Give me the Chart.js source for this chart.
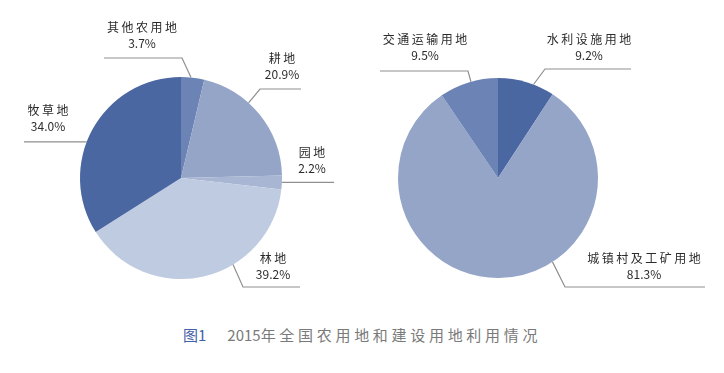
<html><head>
<meta charset="UTF-8">
<title>2015年全国农用地和建设用地利用情况</title>
<script src="https://cdn.jsdelivr.net/npm/chart.js"></script>
<style>
  body { margin: 0; background: #fff; }
  .wrap { position: relative; width: 724px; height: 373px; overflow: hidden; }
  .pie { position: absolute; top: 0; }
  .cap { position: absolute; left: 183px; top: 325px; font: 15px "Noto Sans CJK SC", sans-serif; line-height: 20px; white-space: nowrap; }
  .cap .no { color: #4262a8; }
  .cap .yr { color: #7a7a7a; margin-left: 21px; }
  .cap .tx { color: #7a7a7a; letter-spacing: 3.7px; }
</style>
</head>
<body>
<div class="wrap">
  <canvas id="farm" class="pie" style="left:0" width="362" height="300"></canvas>
  <canvas id="build" class="pie" style="left:362px" width="362" height="300"></canvas>
  <div class="cap"><span class="no">图1</span><span class="yr">2015</span><span class="tx">年全国农用地和建设用地利用情况</span></div>
</div>
<script>
// 农用地
const farmLabels = ['其他农用地', '耕地', '园地', '林地', '牧草地'];
const farmValues = [3.7, 20.9, 2.2, 39.2, 34.0];
// 建设用地
const buildLabels = ['水利设施用地', '城镇村及工矿用地', '交通运输用地'];
const buildValues = [9.2, 81.3, 9.5];

const farmColors = ['#6b83b5', '#94a5c8', '#a8b6d3', '#bfcbe0', '#4a67a1'];
const buildColors = ['#4a67a1', '#94a5c8', '#6b83b5'];

// leader lines: rim angle (deg, clockwise from top), elbow, end x, label centre - all relative to pie centre
const farmLeaders = [
  { a: 5.7, elbow: [1, -120], endX: -77, text: [-39, -151] },
  { a: 42, elbow: [79, -89], endX: 120, text: [101, -120] },
  { a: 92.5, elbow: null, endX: 153, text: [131, -26] },
  { a: 149, elbow: [62, 109], endX: 119, text: [92, 80] },
  { a: 291, elbow: null, endX: -157, text: [-133, -68] }
];
const buildLeaders = [
  { a: 20.8, elbow: [47, -109], endX: 133, text: [91, -139] },
  { a: 147, elbow: [67, 109], endX: 207, text: [146, 80] },
  { a: 344.3, elbow: [-30, -107], endX: -118, text: [-73, -139] }
];

const leaderPlugin = {
  id: 'leaders',
  afterDraw(chart, args, opts) {
    const ctx = chart.ctx;
    const meta = chart.getDatasetMeta(0);
    const labels = chart.data.labels;
    const values = chart.data.datasets[0].data;
    ctx.save();
    meta.data.forEach((arc, i) => {
      const L = opts.layout[i];
      const cx = arc.x, cy = arc.y, r = arc.outerRadius;
      const t = L.a * Math.PI / 180;
      const sx = cx + r * Math.sin(t), sy = cy - r * Math.cos(t);
      ctx.strokeStyle = '#8f8f8f';
      ctx.lineWidth = 1.2;
      ctx.beginPath();
      ctx.moveTo(sx, sy);
      let ey = sy;
      if (L.elbow) {
        ctx.lineTo(cx + L.elbow[0], cy + L.elbow[1]);
        ey = cy + L.elbow[1];
      }
      ctx.lineTo(cx + L.endX, ey);
      ctx.stroke();

      ctx.fillStyle = '#2b2b2b';
      ctx.textAlign = 'center';
      ctx.textBaseline = 'middle';
      ctx.font = '12px "Noto Sans CJK SC", sans-serif';
      ctx.letterSpacing = '2.5px';
      ctx.fillText(labels[i], cx + L.text[0] + 1.25, cy + L.text[1]);
      ctx.letterSpacing = '0px';
      ctx.fillText(values[i].toFixed(1) + '%', cx + L.text[0], cy + L.text[1] + 16);
    });
    ctx.restore();
  }
};

function makePie(id, labels, values, colors, layout, pad) {
  return new Chart(document.getElementById(id), {
    type: 'pie',
    data: {
      labels: labels,
      datasets: [{ data: values, backgroundColor: colors, borderWidth: 0 }]
    },
    options: {
      responsive: false,
      animation: false,
      layout: { padding: pad },
      plugins: {
        legend: { display: false },
        tooltip: { enabled: false },
        leaders: { layout: layout }
      }
    },
    plugins: [leaderPlugin]
  });
}

makePie('farm', farmLabels, farmValues, farmColors, farmLeaders, { left: 80, right: 80, top: 77, bottom: 21 });
makePie('build', buildLabels, buildValues, buildColors, buildLeaders, { left: 36, right: 126, top: 78, bottom: 22 });
</script>
</body></html>
